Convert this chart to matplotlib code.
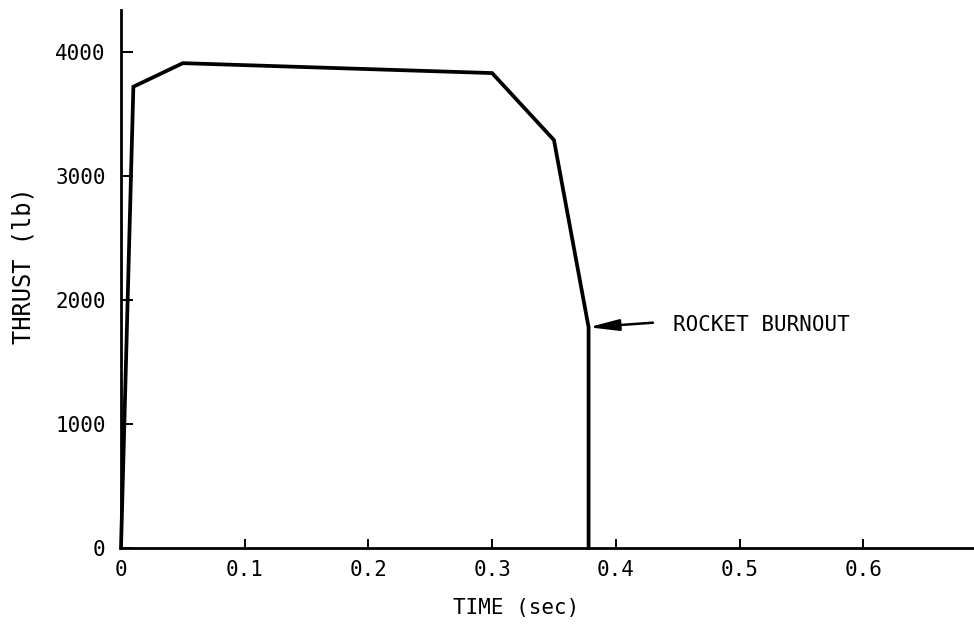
import matplotlib
matplotlib.use("Agg")
import matplotlib.pyplot as plt

# Data
time_sec = [0.0, 0.01, 0.05, 0.30, 0.35, 0.378, 0.378]
thrust_lb = [0, 3720, 3910, 3830, 3290, 1780, 0]

x_ticks = [0, 0.1, 0.2, 0.3, 0.4, 0.5, 0.6]
x_tick_labels = ["0", "0.1", "0.2", "0.3", "0.4", "0.5", "0.6"]
y_ticks = [0, 1000, 2000, 3000, 4000]
y_tick_labels = ["0", "1000", "2000", "3000", "4000"]

burnout_point = (0.378, 1780)
burnout_text_pos = (0.446, 1798)
burnout_arrow_tail = (0.430, 1817)
burnout_label = "ROCKET BURNOUT"

plt.rcParams["font.family"] = ["DejaVu Sans Mono"]

W, H = 974, 624
fig = plt.figure(figsize=(W / 100, H / 100), dpi=100)
left_px, zero_px, top_px = 121, 548, 10
ax = fig.add_axes([left_px / W, (H - zero_px) / H, (W - left_px) / W, (zero_px - top_px) / H])

ax.plot(time_sec, thrust_lb, color="black", lw=2.7, solid_joinstyle="miter", clip_on=False)

ax.set_xlim(0, (W - left_px) / 1237)
ax.set_ylim(0, (zero_px - top_px) / 0.124)

for s in ("top", "right"):
    ax.spines[s].set_visible(False)
for s in ("left", "bottom"):
    ax.spines[s].set_linewidth(2.0)

ax.set_xticks(x_ticks)
ax.set_xticklabels(x_tick_labels)
ax.set_yticks(y_ticks)
ax.set_yticklabels(y_tick_labels)
ax.tick_params(axis="x", direction="in", length=6.5, width=1.4, pad=9, labelsize=15)
ax.tick_params(axis="y", direction="in", length=8.5, width=1.4, pad=11, labelsize=15)

ax.set_xlabel("TIME (sec)", fontsize=15, va="center")
ax.xaxis.set_label_coords((516 - left_px) / (W - left_px), -(608 - zero_px) / (zero_px - top_px))
ax.set_ylabel("THRUST (lb)", fontsize=17, va="center")
ax.yaxis.set_label_coords((24 - left_px) / (W - left_px), (zero_px - 266) / (zero_px - top_px))

ax.annotate("", xy=burnout_point, xytext=burnout_arrow_tail,
            arrowprops=dict(arrowstyle="-|>,head_length=0.9,head_width=0.17",
                            mutation_scale=20, lw=1.8, color="black",
                            shrinkA=0, shrinkB=0))
ax.text(burnout_text_pos[0], burnout_text_pos[1], burnout_label, fontsize=15,
        ha="left", va="center")

fig.savefig("out.png", dpi=100)
